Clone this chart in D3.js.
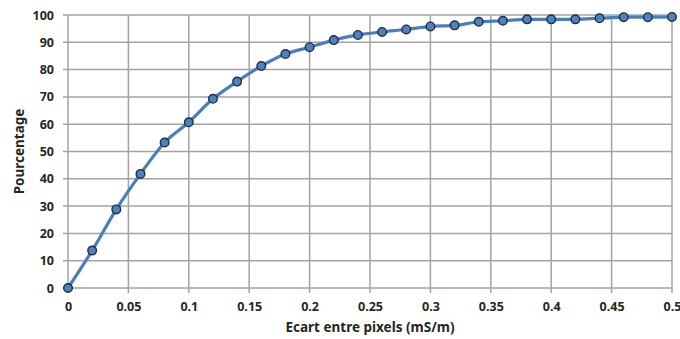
<!DOCTYPE html>
<html><head><meta charset="utf-8">
<script src="https://cdn.jsdelivr.net/npm/d3@7"></script>
<style>
html,body{margin:0;padding:0;background:#fff;}
svg text{font-family:"Noto Sans","Open Sans",sans-serif;font-weight:bold;fill:#262626;}
</style></head>
<body>
<svg id="c" width="680" height="339"></svg>
<script>
const xValues = [0,0.02,0.04,0.06,0.08,0.1,0.12,0.14,0.16,0.18,0.2,0.22,0.24,0.26,0.28,0.3,0.32,0.34,0.36,0.38,0.4,0.42,0.44,0.46,0.48,0.5];
const yValues = [0,13.7,28.8,41.8,53.3,60.7,69.3,75.6,81.3,85.7,88.2,90.8,92.7,93.8,94.7,95.8,96.2,97.5,97.9,98.4,98.4,98.4,98.8,99.2,99.2,99.3];
const xTicks = [0,0.05,0.1,0.15,0.2,0.25,0.3,0.35,0.4,0.45,0.5];
const yTicks = [0,10,20,30,40,50,60,70,80,90,100];
const xTitle = "Ecart entre pixels (mS/m)";
const yTitle = "Pourcentage";

const svg = d3.select("#c");
const m = {l:68, r:8, t:15, b:51};
const W = 680, H = 339;
const x = d3.scaleLinear().domain([0,0.5]).range([m.l, W-m.r]);
const y = d3.scaleLinear().domain([0,100]).range([H-m.b, m.t]);
const grid = "#a3a3a3";

// grid
svg.append("g").selectAll("line").data(yTicks).join("line")
  .attr("x1", m.l-5).attr("x2", W-m.r).attr("y1", d=>y(d)).attr("y2", d=>y(d))
  .attr("stroke", grid).attr("stroke-width", 1.5);
svg.append("g").selectAll("line").data(xTicks).join("line")
  .attr("y1", m.t).attr("y2", H-m.b+5).attr("x1", d=>x(d)).attr("x2", d=>x(d))
  .attr("stroke", grid).attr("stroke-width", 1.5);

// axes labels
const xa = svg.append("g").attr("transform", `translate(0,${H-m.b})`)
  .call(d3.axisBottom(x).tickValues(xTicks).tickSize(0).tickPadding(14).tickFormat(d=>String(d)));
xa.select(".domain").remove();
xa.selectAll("text").attr("font-size", 12.5);
const ya = svg.append("g").attr("transform", `translate(${m.l},0)`)
  .call(d3.axisLeft(y).tickValues(yTicks).tickSize(0).tickPadding(14).tickFormat(d=>String(d)));
ya.select(".domain").remove();
ya.selectAll("text").attr("font-size", 12.5);

// line
const pts = xValues.map((v,i)=>[v,yValues[i]]);
svg.append("path").datum(pts)
  .attr("d", d3.line().x(d=>x(d[0])).y(d=>y(d[1])).curve(d3.curveMonotoneX))
  .attr("fill","none").attr("stroke","#4a7ebb").attr("stroke-width",3.2);
svg.append("g").selectAll("circle").data(pts).join("circle")
  .attr("cx", d=>x(d[0])).attr("cy", d=>y(d[1])).attr("r", 4.3)
  .attr("fill","#4f81bd").attr("stroke","#1d2f45").attr("stroke-width",1.4);

// titles
svg.append("text").attr("x", (m.l+W-m.r)/2).attr("y", 332).attr("text-anchor","middle")
  .attr("font-size", 13.5).text(xTitle);
svg.append("text").attr("transform", `translate(24,${(m.t+H-m.b)/2}) rotate(-90)`)
  .attr("text-anchor","middle").attr("font-size", 13.5).text(yTitle);
</script>
</body></html>
